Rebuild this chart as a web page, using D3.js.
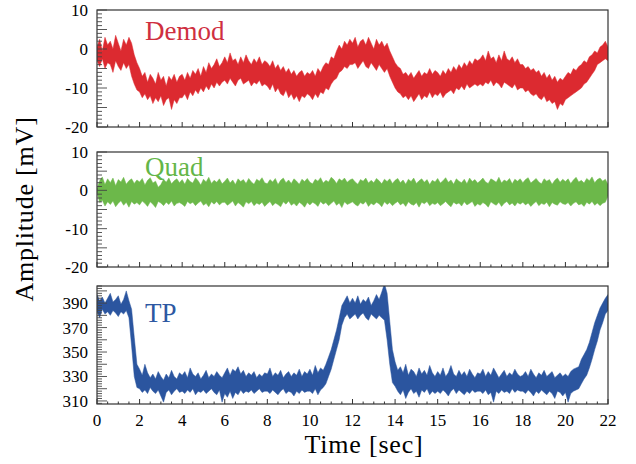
<!DOCTYPE html>
<html><head><meta charset="utf-8">
<script src="https://cdn.jsdelivr.net/npm/d3@7"></script>
<style>body{margin:0;background:#fff}svg{display:block}</style>
</head><body>
<svg id="c" width="636" height="464"></svg>
<script>
// ---- data ----
const timeTicks = [0,2,4,6,8,10,12,14,15,16,18,20,22];
// sample times [s]
const time = [].concat(d3.range(0, 14, 0.125), d3.range(14, 16, 0.0625), d3.range(16, 22.001, 0.125));

// Demod upper / lower envelope [mV]
const demodHi = [
 [0.5,2.5,-0.5,3,1,2,0,3.5,1.5,-0.5,2.5,1,3,1.5,-1.5,-3.5],
 [-5,-7,-6,-8.5,-6.5,-7.5,-9,-6,-8,-7,-9.5,-7,-8,-6.5,-8.5,-7],
 [-6.5,-8,-6,-7.5,-5.5,-6.5,-5,-7,-4.5,-6,-3.5,-5,-4,-2.5,-4.5,-3.5],
 [-2,-3.5,-1,-3,-2.5,-4,-2,-3.5,-1.5,-3,-4,-2.5,-3.5,-2,-4,-3],
 [-3.5,-4.5,-3,-5,-4,-5.5,-4.5,-6,-5,-6.5,-5.5,-7,-6,-5.5,-7,-6],
 [-6.5,-5.5,-7,-5,-6,-4.5,-3.5,-4,-2,-2.5,-0.5,1,0,2,1,2.5],
 [1.5,3,0.5,2,2.5,1,3,1.5,0,2.5,1,2,0.5,1.5,-0.5,-2],
 [-3.5,-4.5,-5,-6.5,-6,-7,-6,-7.5,-6.5,-5.5,-7,-6,-6.5,-5,-6.5,-5.5],
 [-6,-7,-5.5,-6.5,-5,-6,-4.5,-5.5,-4,-5,-3.5,-4.5,-3,-4,-2.5,-3],
 [-2.5,-1.5,-3,-0.5,-2.5,-2,-3.5,-1.5,-3,-0.5,-2.5,-3,-2,-3.5,-2.5,-4],
 [-4,-5,-4.5,-5.5,-5,-6,-5.5,-7,-6,-7.5,-6.5,-8,-7,-8.5,-7.5,-8],
 [-7,-6,-6.5,-5,-5.5,-4.5,-4,-3,-3.5,-2,-1.5,-0.5,-1,0.5,1,2],
 [0.5]].flat();
const demodLo = [
 [-3,-4.5,-2.5,-5,-3.5,-4,-6,-3,-4.5,-5.5,-3.5,-5,-4,-7,-9,-10.5],
 [-11,-12.5,-11.5,-13,-12,-14,-12.5,-13.5,-12,-14.5,-13,-12.5,-15.5,-13,-14,-12.5],
 [-12.5,-11.5,-13,-11,-12,-10.5,-11.5,-10,-11,-9.5,-10.5,-9,-10,-8.5,-9.5,-8.5],
 [-8,-9,-7.5,-8.5,-9.5,-8,-7.5,-9,-8.5,-8,-9.5,-8.5,-9,-8,-9.5,-9],
 [-9.5,-10.5,-9,-11,-10,-11.5,-12,-10.5,-12.5,-11.5,-13,-12,-13.5,-12,-12.5,-11.5],
 [-12,-13,-11.5,-12.5,-11,-11.5,-10,-10.5,-9,-8,-7.5,-6,-5.5,-4.5,-5,-4],
 [-4,-3.5,-5,-4,-3,-4.5,-5,-3.5,-4.5,-5.5,-4,-5,-6,-5,-7,-8.5],
 [-10,-11,-11.5,-12.5,-12,-13,-12,-13.5,-12.5,-11.5,-13,-12,-12.5,-11,-12.5,-11.5],
 [-12,-11,-12.5,-11.5,-11,-10.5,-11.5,-10,-10.5,-9.5,-10.5,-9,-10,-9.5,-9,-9.5],
 [-9,-9.5,-8.5,-9,-8,-9.5,-8.5,-9,-10,-8.5,-9,-9.5,-10,-9,-10.5,-10],
 [-10,-11,-10.5,-11.5,-12,-11.5,-12.5,-13,-12,-13.5,-13,-14,-13.5,-15.5,-14,-14.5],
 [-13,-12.5,-12,-11.5,-11,-10.5,-10,-9,-8.5,-7.5,-6.5,-5.5,-4,-3.5,-3,-2.5],
 [-3]].flat();

// Quad upper / lower envelope [mV]
const quadHi = [
 [0.5,2.5,3.5,1.5,3,2,3.2,1.2,2.8,2.2,3.4,1.6,2.5,3,1.8,2.7],
 [2.2,3.1,1.4,2.6,3.3,1.9,2.4,0.8,1.5,2.9,2.1,3.2,1.7,2.5,3,2],
 [2.8,1.6,3.1,2.3,1.9,3.3,2.5,1.4,2.9,2.2,3.4,1.8,2.6,2.1,3,1.7],
 [2.4,3.2,1.9,2.7,1.5,3,2.3,2.8,1.8,3.1,2.2,1.6,2.9,2.4,3.3,2],
 [1.7,2.8,2.2,3.1,1.5,2.6,3.2,2,2.7,1.8,3,2.4,1.6,2.9,2.3,3.1],
 [2.1,1.7,2.9,2.4,3.3,1.9,2.6,2.2,3.4,2.8,1.8,3,2.5,3.2,2.1,2.7],
 [3,2.2,1.6,2.8,2.4,3.2,1.9,2.6,2,3.1,2.5,1.7,2.9,2.3,3,1.8],
 [2.6,3.1,2,2.7,1.6,2.9,2.3,3.2,1.8,2.5,3,2.1,2.8,1.5,2.6,2.2],
 [3.1,1.9,2.5,3.3,2.1,2.7,1.6,3,2.4,2,2.9,1.7,3.2,2.3,2.8,1.9],
 [2.5,3.2,2.2,1.8,3,2.6,2.1,3.4,1.9,2.7,2.3,3.1,1.7,2.9,2.4,3],
 [2,2.8,3.3,1.9,2.5,3.1,2.2,1.7,3,2.4,2.8,1.6,2.6,3.2,2.1,2.9],
 [2.3,3,1.8,2.7,3.4,2.2,2.6,1.9,3.1,2.5,3.5,2,2.8,3.2,2.4,2.9],
 [1.5]].flat();
const quadLo = [
 [-0.5,-3.2,-2.6,-4.1,-3,-3.7,-2.8,-4.3,-3.4,-2.7,-3.9,-3.1,-4.4,-2.9,-3.6,-3.2],
 [-3.8,-2.8,-3.4,-4.2,-3,-3.6,-4.5,-2.9,-3.3,-4,-3.1,-3.7,-2.8,-4.1,-3.4,-3.2],
 [-3.6,-4.2,-2.9,-3.5,-3.1,-4,-3.3,-2.8,-3.9,-3.4,-4.3,-3,-3.6,-2.9,-3.8,-3.2],
 [-3.1,-3.9,-3.4,-2.8,-4.1,-3.2,-3.7,-4.4,-3,-3.5,-2.9,-4,-3.3,-3.7,-3.1,-4.2],
 [-3.5,-2.9,-4,-3.3,-3.7,-4.3,-3,-3.6,-2.8,-3.9,-3.4,-4.1,-3.1,-3.6,-4.4,-3.2],
 [-3.8,-3.1,-3.5,-4.2,-2.9,-3.6,-3.2,-4,-3.4,-2.8,-3.9,-3.3,-4.5,-3,-3.7,-3.4],
 [-3,-3.7,-4.1,-3.2,-3.6,-2.9,-4.2,-3.4,-3.8,-3.1,-3.5,-4.3,-3,-3.7,-3.2,-4],
 [-3.4,-2.9,-3.8,-3.3,-4.2,-3,-3.6,-3.9,-3.2,-4.4,-3.1,-3.5,-2.9,-4,-3.4,-3.7],
 [-3.2,-4,-3.5,-2.9,-3.7,-4.3,-3.1,-3.6,-3.3,-4.1,-3,-3.8,-3.4,-2.9,-4.2,-3.5],
 [-3.9,-3.2,-3.6,-4.4,-3,-3.5,-3.9,-3.1,-4.2,-3.4,-2.9,-3.8,-3.3,-4.1,-3.2,-3.6],
 [-3.1,-3.8,-3.3,-4.2,-3.5,-2.9,-4,-3.4,-3.7,-3.1,-4.3,-3.2,-3.6,-3.9,-3,-3.5],
 [-3.7,-3.2,-4.1,-3.4,-3,-3.8,-3.5,-4.2,-3.1,-3.6,-2.9,-3.9,-3.3,-4,-3.4,-3.1],
 [-1.5]].flat();

// TP upper / lower envelope
const tpHi = [
 [397,392,395,390,394,398,391,393,396,389,393,400,392,385,362,340],
 [336,331,340,333,329,332,328,334,330,327,332,329,335,330,328,333],
 [331,334,329,337,332,330,333,328,331,335,329,332,330,334,331,329],
 [333,337,331,336,334,338,332,335,330,333,331,334,329,332,330,333],
 [332,337,330,333,331,335,329,332,334,330,333,331,336,330,334,332],
 [336,331,339,333,337,335,340,346,352,360,368,378,388,392,396,390],
 [394,390,396,389,393,391,395,388,392,397,393,399,406,398,375,352],
 [342,335,338,333,340,331,336,334,330,337,332,335,331,339,333,330],
 [334,331,337,330,333,339,332,330,335,331,334,330,336,332,329,333],
 [332,336,330,334,331,337,333,329,332,335,330,333,331,336,332,330],
 [331,334,330,336,332,329,333,331,335,330,332,334,329,331,333,330],
 [332,330,334,336,337,338,344,348,352,358,366,374,380,386,390,394],
 [397]].flat();
const tpLo = [
 [383,378,385,381,383,380,384,382,379,383,381,384,378,355,330,321],
 [320,317,319,316,321,318,316,319,314,309,317,319,315,318,320,317],
 [318,316,319,317,320,315,318,317,319,316,318,320,317,315,319,309],
 [316,313,318,312,317,315,319,316,318,317,319,316,318,320,317,318],
 [318,316,319,317,315,318,320,316,318,317,314,318,316,319,317,318],
 [318,316,320,315,319,321,324,330,336,344,352,360,372,378,381,377],
 [379,381,377,380,382,378,376,381,379,377,380,378,376,360,340,325],
 [322,318,315,319,312,317,320,316,318,313,319,317,320,315,318,316],
 [318,316,319,317,314,318,320,316,319,317,315,318,316,319,317,318],
 [318,316,319,315,317,309,318,316,319,317,318,316,320,317,319,318],
 [318,316,319,317,314,318,316,319,317,315,318,316,312,318,317,314],
 [317,309,316,318,319,320,324,328,331,337,344,352,359,368,374,381],
 [384]].flat();

const yTicksMV = [10,0,-10,-20];
const yTicksTP = [390,370,350,330,310];

// ---- layout ----
const svg = d3.select('#c');
const L = 97, R = 608;
const x = d3.scaleLinear().domain(timeTicks)
  .range(timeTicks.map((d,i)=> L + i*(R-L)/(timeTicks.length-1)));
const serif = "'Liberation Serif','DejaVu Serif',serif";
const panels = [
  {hi: demodHi, lo: demodLo, dom:[-20,10], top:10, bot:127, color:'#dc2a30', name:'Demod', lblColor:'#cf2f40', ticks:yTicksMV, minorStep:1, majorMod:5, ly:40},
  {hi: quadHi, lo: quadLo, dom:[-20,10], top:152, bot:267, color:'#6cb84a', name:'Quad', lblColor:'#64b648', ticks:yTicksMV, minorStep:1, majorMod:5, ly:176},
  {hi: tpHi, lo: tpLo, dom:[307.5,404], top:286, bot:404, color:'#2b559f', name:'TP', lblColor:'#2d58a2', ticks:yTicksTP, minorStep:2, majorMod:10, ly:322}
];

panels.forEach((p,k)=>{
  const y = d3.scaleLinear().domain(p.dom).range([p.bot,p.top]);
  const g = svg.append('g');
  const cid = 'clip'+k;
  svg.append('clipPath').attr('id',cid).append('rect')
    .attr('x',L).attr('y',p.top).attr('width',R-L).attr('height',p.bot-p.top);
  const area = d3.area().x((d,i)=>x(time[i])).y0((d,i)=>y(p.lo[i])).y1((d,i)=>y(p.hi[i]));
  g.append('path').datum(p.hi).attr('d',area).attr('fill',p.color)
    .attr('stroke',p.color).attr('stroke-width',0.5).attr('clip-path',`url(#${cid})`);
  // frame
  g.append('rect').attr('x',L).attr('y',p.top).attr('width',R-L).attr('height',p.bot-p.top)
    .attr('fill','none').attr('stroke','#333').attr('stroke-width',1.2);
  // y ticks
  const ys = d3.range(Math.ceil(p.dom[0]/p.minorStep)*p.minorStep, p.dom[1]+0.001, p.minorStep);
  ys.forEach(v=>{
    const len = (Math.abs(v % p.majorMod) < 1e-6) ? 10 : 5;
    g.append('line').attr('x1',L).attr('x2',L+len).attr('y1',y(v)).attr('y2',y(v))
      .attr('stroke','#444').attr('stroke-width',0.9);
  });
  // y labels
  p.ticks.forEach(v=>{
    g.append('text').attr('x',L-9).attr('y',y(v)).attr('dy','0.35em')
      .attr('text-anchor','end').attr('font-family',serif).attr('font-size',17).text(v);
  });
  // x ticks
  timeTicks.forEach((t,i)=>{
    const px = x(t);
    g.append('line').attr('x1',px).attr('x2',px).attr('y1',p.bot).attr('y2',p.bot-5)
      .attr('stroke','#333').attr('stroke-width',1);
    if(i < timeTicks.length-1){
      const nx = x(timeTicks[i+1]);
      for(let j=1;j<4;j++){
        const mx = px + (nx-px)*j/4;
        g.append('line').attr('x1',mx).attr('x2',mx).attr('y1',p.bot).attr('y2',p.bot-2.5)
          .attr('stroke','#333').attr('stroke-width',1);
      }
    }
  });
  // series label
  g.append('text').attr('x',145).attr('y',p.ly).attr('font-family',serif).attr('font-size',27)
    .attr('fill',p.lblColor).text(p.name);
});

// x tick labels
timeTicks.forEach(t=>{
  svg.append('text').attr('x',x(t)).attr('y',426).attr('text-anchor','middle')
    .attr('font-family',serif).attr('font-size',17).text(t);
});
svg.append('text').attr('x',364).attr('y',453).attr('text-anchor','middle')
  .attr('font-family',serif).attr('font-size',26).attr('letter-spacing',0.8).text('Time [sec]');
svg.append('text').attr('transform','translate(33,209) rotate(-90)').attr('text-anchor','middle')
  .attr('font-family',serif).attr('font-size',26).attr('letter-spacing',0.8).text('Amplitude [mV]');
</script>
</body></html>
